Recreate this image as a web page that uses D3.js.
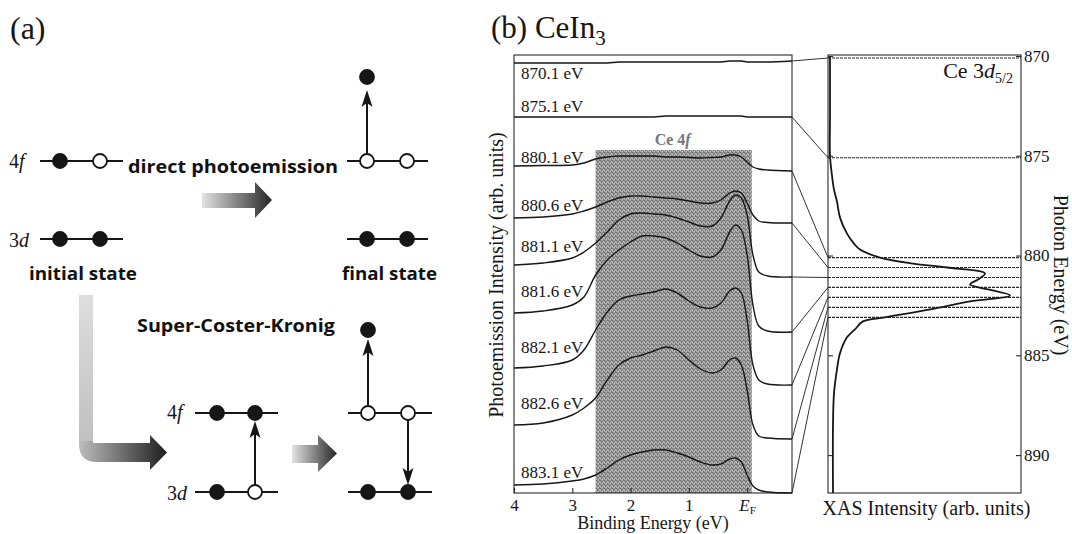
<!DOCTYPE html>
<html>
<head>
<meta charset="utf-8">
<script src="https://cdn.jsdelivr.net/npm/d3@7"></script>
<style>
  body { margin: 0; background: #fff; }
  svg { display: block; }
</style>
</head>
<body>
<svg id="fig" width="1072" height="534"></svg>
<script>
// ---------- data: resonant photoemission spectra of CeIn3 ----------
const bindingEnergy = [4.0, 3.5, 3.0, 2.8, 2.6, 2.4, 2.2, 2.0, 1.8, 1.6, 1.4, 1.2, 1.0, 0.8, 0.6, 0.45, 0.3, 0.2, 0.1, 0.0, -0.1, -0.2, -0.35, -0.77];

const photonEnergies = [870.1, 875.1, 880.1, 880.6, 881.1, 881.6, 882.1, 882.6, 883.1];
const spectrumLabels = ["870.1 eV", "875.1 eV", "880.1 eV", "880.6 eV", "881.1 eV", "881.6 eV", "882.1 eV", "882.6 eV", "883.1 eV"];

// intensities (offset, arb. units) on the bindingEnergy grid
const pes870_1 = [430, 430, 430, 430, 430, 430, 431, 431, 431, 431, 431, 431, 431, 431, 431, 431, 432, 432, 432, 431, 431, 431, 431, 432];
const pes875_1 = [376, 376, 376, 376, 376, 376, 376, 376, 376, 376, 377, 377, 377, 377, 377, 377, 377, 377, 377, 376, 376, 376, 376, 376];
const pes880_1 = [327, 327.5, 328, 330, 334, 336, 337, 337, 337, 337, 336, 336, 335.5, 335, 335.5, 336, 338, 338, 336, 331, 326, 324, 323, 322];
const pes880_6 = [275, 276, 279, 282, 286, 291, 295, 297, 297, 296, 295, 294, 292, 290, 290, 293, 300, 302, 300, 290, 278, 272, 270.5, 270];
const pes881_1 = [228, 230, 235, 241, 250, 261, 273, 279, 280, 279, 278, 275, 271, 267, 267, 275, 292, 298, 295, 278, 238, 221, 217, 216];
const pes881_6 = [180, 182, 188, 196, 218, 233, 243, 251, 257, 257, 255, 250, 243, 237, 236, 243, 261, 268, 263, 238, 188, 167, 162, 161];
const pes882_1 = [125, 127, 133, 143, 163, 181, 193, 197, 199, 201, 204, 200, 192, 186, 185, 190, 202, 205, 200, 173, 128, 113, 109, 108];
const pes882_6 = [68, 70, 78, 85, 95, 113, 128, 135, 138, 142, 146, 143, 133, 124, 120, 123, 133, 135, 128, 103, 68, 57, 55, 54];
const pes883_1 = [8, 9, 12, 14, 18, 25, 33, 38, 41, 43, 43, 40, 36, 31, 28, 29, 34, 35, 31, 18, 7, 3, 1, 0];

// Ce 4f emphasis window (binding energy) and its height
const ce4fWindow = [2.6, -0.08];
const ce4fTop = 343;

// Ce 3d5/2 XAS spectrum
const xasEnergy = [870.0, 871, 873, 875.0, 876.0, 876.7, 877.3, 878.1, 878.9, 879.4, 879.7, 880.1, 880.4, 880.6, 880.9, 881.2, 881.45, 881.7, 882.0, 882.3, 882.7, 883.1, 883.3, 883.7, 884.1, 884.9, 885.7, 886.9, 888.5, 891.9];
const xasIntensity = [2, 2, 2, 2, 4, 6, 9, 12, 19, 26, 32, 52, 85, 119, 157, 150, 142, 160, 182, 142, 102, 57, 35, 27, 19, 12, 9, 6, 5, 5];

const beTicks = [4, 3, 2, 1, 0];
const peTicks = [870, 875, 880, 885, 890];

// ---------- setup ----------
const svg = d3.select("#fig");
const SERIF = "'Liberation Serif', 'Times New Roman', serif";
const SANS = "'Open Sans', 'Noto Sans', sans-serif";
const INK = "#161616";

const spectra = [pes870_1, pes875_1, pes880_1, pes880_6, pes881_1, pes881_6, pes882_1, pes882_6, pes883_1]
  .map((vals, i) => ({ pe: photonEnergies[i], label: spectrumLabels[i], values: vals }));

const defs = svg.append("defs");

// halftone-like fill for the Ce 4f window
const pat = defs.append("pattern").attr("id", "halftone")
  .attr("width", 4).attr("height", 4).attr("patternUnits", "userSpaceOnUse");
pat.append("rect").attr("width", 4).attr("height", 4).attr("fill", "#a2a2a2");
[[0,0],[2,1],[1,2],[3,3],[3,0],[1,1]].forEach(([x, y], i) =>
  pat.append("rect").attr("x", x).attr("y", y).attr("width", 1).attr("height", 1)
    .attr("fill", i % 2 ? "#7a7a7a" : "#6c6c6c"));
[[2,3],[0,2],[3,1]].forEach(([x, y]) =>
  pat.append("rect").attr("x", x).attr("y", y).attr("width", 1).attr("height", 1).attr("fill", "#c4c4c4"));

function hGrad(id, c0, c1) {
  const g = defs.append("linearGradient").attr("id", id).attr("x1", 0).attr("y1", 0).attr("x2", 1).attr("y2", 0);
  g.append("stop").attr("offset", "0%").attr("stop-color", c0);
  g.append("stop").attr("offset", "100%").attr("stop-color", c1);
}
function vGrad(id, c0, c1) {
  const g = defs.append("linearGradient").attr("id", id).attr("x1", 0).attr("y1", 0).attr("x2", 0).attr("y2", 1);
  g.append("stop").attr("offset", "0%").attr("stop-color", c0);
  g.append("stop").attr("offset", "100%").attr("stop-color", c1);
}
hGrad("gArrow", "#e2e2e2", "#262626");
hGrad("gArrowL", "#bdbdbd", "#1e1e1e");
vGrad("gArrowV", "#dedede", "#c0c0c0");

// ================= panel (a): schematic =================
const pa = svg.append("g");

pa.append("text").attr("x", 10).attr("y", 39).attr("font-family", SERIF)
  .attr("font-size", 32).attr("fill", INK).text("(a)");

function level(y, x1, x2) {
  pa.append("line").attr("x1", x1).attr("x2", x2).attr("y1", y).attr("y2", y)
    .attr("stroke", INK).attr("stroke-width", 2);
}
function electron(x, y, filled) {
  pa.append("circle").attr("cx", x).attr("cy", y).attr("r", 7)
    .attr("fill", filled ? INK : "#fff").attr("stroke", INK).attr("stroke-width", 1.8);
}
function vArrow(x, y1, y2) {
  const dir = y2 < y1 ? 1 : -1;
  pa.append("line").attr("x1", x).attr("x2", x).attr("y1", y1).attr("y2", y2 + dir * 10)
    .attr("stroke", INK).attr("stroke-width", 2);
  pa.append("path")
    .attr("d", `M${x},${y2} L${x - 5.5},${y2 + dir * 17} L${x},${y2 + dir * 13} L${x + 5.5},${y2 + dir * 17} Z`)
    .attr("fill", INK);
}
function orbitalLabel(x, y, num, letter) {
  const t = pa.append("text").attr("x", x).attr("y", y).attr("font-family", SERIF)
    .attr("font-size", 20).attr("fill", INK);
  t.append("tspan").text(num);
  t.append("tspan").attr("font-style", "italic").text(letter);
}
function boldLabel(x, y, str, w) {
  pa.append("text").attr("x", x).attr("y", y).attr("font-family", SANS)
    .attr("font-weight", 700).attr("font-size", 18).attr("fill", "#111")
    .attr("textLength", w).attr("lengthAdjust", "spacingAndGlyphs").text(str);
}

// initial state
orbitalLabel(9, 168, "4", "f");
orbitalLabel(9, 247, "3", "d");
level(161, 40, 123); electron(60, 161, true); electron(100, 161, false);
level(239, 40, 123); electron(60, 239, true); electron(100, 239, true);

// direct photoemission final state
level(161, 347, 428); electron(367, 161, false); electron(407, 161, false);
level(239, 347, 428); electron(367, 239, true); electron(407, 239, true);
vArrow(367, 154, 90);
electron(367, 77, true);

boldLabel(128, 173, "direct photoemission", 210);
boldLabel(29, 280, "initial state", 108);
boldLabel(342, 280, "final state", 95);
boldLabel(137, 332, "Super-Coster-Kronig", 198);

// shaded arrows
pa.append("path").attr("d", "M202,193 L255,193 L255,182 L272,200 L255,218 L255,208 L202,208 Z")
  .attr("fill", "url(#gArrow)");
pa.append("rect").attr("x", 79).attr("y", 295).attr("width", 14).attr("height", 147)
  .attr("fill", "url(#gArrowV)");
pa.append("path")
  .attr("d", "M79,441 L93,441 L93,443 L150,443 L150,435 L167,452.5 L150,470 L150,462 L97,462 Q79,462 79,444 Z")
  .attr("fill", "url(#gArrowL)");
pa.append("path").attr("d", "M292,445 L318,445 L318,435 L337,453.5 L318,472 L318,463 L292,463 Z")
  .attr("fill", "url(#gArrow)");

// Super-Coster-Kronig intermediate state
orbitalLabel(167, 419, "4", "f");
orbitalLabel(167, 500, "3", "d");
level(413, 195, 278); electron(217, 413, true);
level(492, 195, 278); electron(217, 492, true); electron(255, 492, false);
vArrow(255, 485, 421);
electron(255, 413, true);

// Super-Coster-Kronig final state
level(413, 348, 432); electron(368, 413, false); electron(408, 413, false);
level(492, 348, 432); electron(368, 492, true);
vArrow(408, 420, 485);
electron(408, 492, true);
vArrow(368, 406, 339);
electron(368, 330, true);

// ================= panel (b): spectra =================
const xBE = d3.scaleLinear().domain([4, -0.77]).range([514, 792]);
const yInt = d3.scaleLinear().domain([0, 438]).range([493, 55]);
const yPE = d3.scaleLinear().domain([870, 891.9]).range([56, 493]);
const xXAS = d3.scaleLinear().domain([0, 193]).range([828, 1021]);

const pb = svg.append("g");

// title
const title = pb.append("text").attr("x", 491).attr("y", 38).attr("font-family", SERIF)
  .attr("font-size", 31).attr("fill", INK);
title.append("tspan").text("(b) CeIn");
title.append("tspan").attr("font-size", 21).attr("dy", 7).text("3");

// Ce 4f window
pb.append("rect")
  .attr("x", xBE(ce4fWindow[0])).attr("width", xBE(ce4fWindow[1]) - xBE(ce4fWindow[0]))
  .attr("y", yInt(ce4fTop)).attr("height", yInt(0) - yInt(ce4fTop))
  .attr("fill", "url(#halftone)");
const ceLab = pb.append("text").attr("x", (xBE(ce4fWindow[0]) + xBE(ce4fWindow[1])) / 2 - 1)
  .attr("y", yInt(ce4fTop) - 5).attr("text-anchor", "middle")
  .attr("font-family", SERIF).attr("font-size", 16).attr("font-weight", 700).attr("fill", "#777");
ceLab.append("tspan").text("Ce 4");
ceLab.append("tspan").attr("font-style", "italic").text("f");

// frame of the photoemission panel
pb.append("rect").attr("x", xBE.range()[0]).attr("y", yInt.range()[1])
  .attr("width", xBE.range()[1] - xBE.range()[0]).attr("height", yInt.range()[0] - yInt.range()[1])
  .attr("fill", "none").attr("stroke", "#2a2a2a").attr("stroke-width", 1.1);

// spectra
const line = d3.line()
  .x((d, i) => xBE(bindingEnergy[i]))
  .y(d => yInt(d))
  .curve(d3.curveCatmullRom.alpha(0.5));

pb.append("g").selectAll("path").data(spectra).join("path")
  .attr("d", d => line(d.values))
  .attr("fill", "none").attr("stroke", INK).attr("stroke-width", 1.4);

// spectrum labels
const labelBaselines = [79, 112, 163, 211, 252, 297, 353, 409, 478];
pb.append("g").selectAll("text").data(spectra).join("text")
  .attr("x", 521).attr("y", (d, i) => labelBaselines[i])
  .attr("font-family", SERIF).attr("font-size", 17).attr("fill", INK)
  .text(d => d.label);

// binding energy axis
const xAxis = pb.append("g").attr("transform", `translate(0,${yInt(0)})`)
  .call(d3.axisBottom(xBE).tickValues(beTicks).tickSizeInner(-5).tickSizeOuter(0).tickPadding(6)
    .tickFormat(d3.format("d")));
xAxis.select(".domain").remove();
xAxis.selectAll(".tick line").attr("stroke", "#2a2a2a").attr("stroke-width", 1.1);
xAxis.selectAll(".tick text").attr("font-family", SERIF).attr("font-size", 17).attr("fill", INK);
xAxis.selectAll(".tick text").filter(d => d === 0).text(null)
  .call(t => {
    t.append("tspan").attr("font-style", "italic").text("E");
    t.append("tspan").attr("font-size", 11).attr("dy", 3).text("F");
  });

pb.append("text").attr("x", (xBE.range()[0] + xBE.range()[1]) / 2).attr("y", 529)
  .attr("text-anchor", "middle").attr("font-family", SERIF).attr("font-size", 18).attr("fill", INK)
  .text("Binding Energy (eV)");

pb.append("text").attr("transform", "translate(503,275) rotate(-90)")
  .attr("text-anchor", "middle").attr("font-family", SERIF).attr("font-size", 20).attr("fill", INK)
  .text("Photoemission Intensity (arb. units)");

// ================= XAS panel =================
// connectors from each spectrum to its photon energy
pb.append("g").selectAll("line").data(spectra).join("line")
  .attr("x1", xBE(bindingEnergy[bindingEnergy.length - 1]))
  .attr("y1", d => yInt(d.values[d.values.length - 1]))
  .attr("x2", xXAS(0)).attr("y2", d => yPE(d.pe))
  .attr("stroke", "#333").attr("stroke-width", 1);

// photon energy markers
pb.append("g").selectAll("line").data(spectra).join("line")
  .attr("x1", xXAS(0)).attr("x2", xXAS.range()[1])
  .attr("y1", d => yPE(d.pe)).attr("y2", d => yPE(d.pe))
  .attr("stroke", "#2a2a2a").attr("stroke-width", 1.2).attr("stroke-dasharray", "3,1");

// frame
pb.append("rect").attr("x", xXAS.range()[0]).attr("y", 55)
  .attr("width", xXAS.range()[1] - xXAS.range()[0]).attr("height", yPE.range()[1] - 55)
  .attr("fill", "none").attr("stroke", "#2a2a2a").attr("stroke-width", 1.1);

// XAS curve
const xasPts = xasEnergy.map((e, i) => [xXAS(xasIntensity[i]), yPE(e)]);
pb.append("path").attr("d", d3.line().curve(d3.curveCatmullRom.alpha(0.5))(xasPts))
  .attr("fill", "none").attr("stroke", INK).attr("stroke-width", 1.8);

// photon energy axes
const yAxisR = pb.append("g").attr("transform", `translate(${xXAS.range()[1]},0)`)
  .call(d3.axisRight(yPE).tickValues(peTicks).tickSizeInner(-5).tickSizeOuter(0).tickPadding(3));
yAxisR.select(".domain").remove();
yAxisR.selectAll(".tick line").attr("stroke", "#2a2a2a").attr("stroke-width", 1.1);
yAxisR.selectAll(".tick text").attr("font-family", SERIF).attr("font-size", 17).attr("fill", INK);

const yAxisL = pb.append("g").attr("transform", `translate(${xXAS.range()[0]},0)`)
  .call(d3.axisLeft(yPE).tickValues(peTicks).tickSizeInner(-5).tickSizeOuter(0).tickFormat(""));
yAxisL.select(".domain").remove();
yAxisL.selectAll(".tick line").attr("stroke", "#2a2a2a").attr("stroke-width", 1.1);

pb.append("text").attr("transform", "translate(1054,275) rotate(90)")
  .attr("text-anchor", "middle").attr("font-family", SERIF).attr("font-size", 20).attr("fill", INK)
  .text("Photon Energy (eV)");

pb.append("text").attr("x", (xXAS.range()[0] + xXAS.range()[1]) / 2 + 2).attr("y", 515)
  .attr("text-anchor", "middle").attr("font-family", SERIF).attr("font-size", 20).attr("fill", INK)
  .text("XAS Intensity (arb. units)");

const edge = pb.append("text").attr("x", 1013).attr("y", 78).attr("text-anchor", "end")
  .attr("font-family", SERIF).attr("font-size", 22).attr("fill", INK);
edge.append("tspan").text("Ce 3");
edge.append("tspan").attr("font-style", "italic").text("d");
edge.append("tspan").attr("font-size", 14).attr("dy", 5).text("5/2");
</script>
</body>
</html>
